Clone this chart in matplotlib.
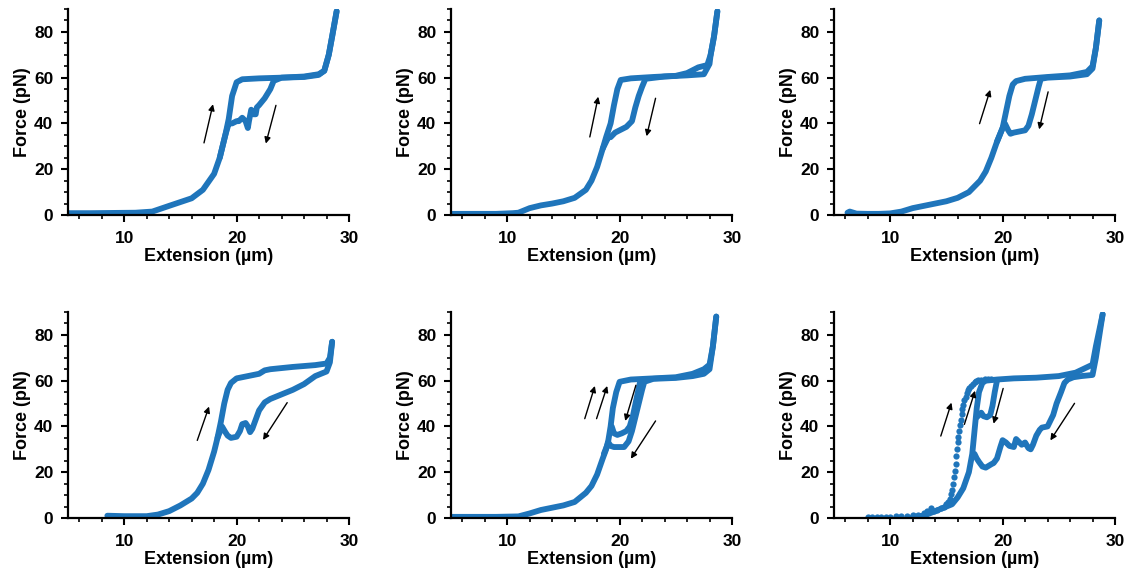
import numpy as np
import matplotlib.pyplot as plt
from matplotlib.ticker import MultipleLocator

plt.rcParams['font.family'] = ['Liberation Sans', 'DejaVu Sans']
plt.rcParams['font.weight'] = 'bold'

BLUE = '#1f75bb'

# ---- panel 1 (top left) ----
p1_sx = [5, 7, 9, 11, 12.5, 14, 16, 17, 18, 18.5, 19, 19.3, 19.6, 20, 20.5, 22, 24, 26, 27.3, 27.8, 28.2, 28.5, 28.9]
p1_sf = [0.8, 0.8, 0.9, 1, 1.5, 4, 7.3, 11, 18, 25, 35, 42, 52, 58, 59.3, 59.7, 60, 60.5, 61.5, 63, 70, 78, 89]
p1_rx = [28.9, 28.5, 28.2, 27.8, 27.3, 26, 24, 23.3, 23, 22.5, 22, 21.8, 21.7, 21.5, 21.3, 21.1, 21, 20.8, 20.5, 20.2, 20, 19.6, 19.3, 19, 18.5]
p1_rf = [89, 78, 70, 63, 61.2, 60.3, 60, 58.6, 55, 51, 48, 47, 44, 44, 46, 41, 38, 41, 42.5, 41, 41, 40, 40, 35, 25]
p1_arrows = [((17.1, 31.5), (17.9, 48.4)), ((23.5, 47.9), (22.6, 31.2))]

# ---- panel 2 (top middle) ----
p2_sx = [5, 7, 9, 10.5, 11, 12, 13, 14, 15, 16, 17, 17.5, 18, 18.5, 18.8, 19.2, 19.5, 19.8, 20.1, 21, 23, 25, 26, 27, 27.8, 28.1, 28.4, 28.7]
p2_sf = [0.5, 0.5, 0.5, 0.8, 1, 3, 4.2, 5, 6, 7.5, 11, 15, 21, 29, 34, 40, 48, 55, 59, 59.7, 60.3, 60.8, 62, 64.5, 65.5, 70, 78, 89]
p2_rx = [28.7, 28.4, 28.1, 28, 27.5, 26, 24, 22.3, 22, 21.7, 21.4, 21.1, 20.6, 20, 19.6, 19.2, 19, 18.5]
p2_rf = [89, 78, 70, 66, 61.5, 61, 60.5, 59.5, 56, 52, 47, 41, 38.5, 37, 36, 34, 34, 29]
p2_arrows = [((17.35, 34.1), (18.1, 51.7)), ((23.2, 51), (22.4, 34.4))]

# ---- panel 3 (top right) ----
p3_sx = [6.2, 6.4, 7, 8, 9, 10, 11, 12, 13, 14, 15, 16, 17, 18, 18.5, 19, 19.5, 20, 20.3, 20.6, 20.9, 21.2, 22, 24, 26, 27.5, 28, 28.3, 28.6]
p3_sf = [1, 1.5, 0.6, 0.5, 0.5, 0.7, 1.5, 3, 4, 5, 6, 7.5, 10, 15, 19, 25, 32, 38, 45, 52, 57, 58.5, 59.5, 60.3, 61, 62.5, 65, 73, 85]
p3_rx = [28.6, 28.3, 28, 27.5, 26, 24, 23.4, 23.2, 22.9, 22.6, 22.3, 22, 21.5, 21, 20.7, 20.5, 20.3, 20.2, 20, 19.5]
p3_rf = [85, 73, 64, 61.5, 60.5, 60, 59.5, 56, 50, 44, 39, 37, 36.5, 36, 35.5, 37, 39, 40, 38, 32]
p3_arrows = [((17.95, 39.9), (18.9, 54.7)), ((24.05, 53.8), (23.25, 37.4))]

# ---- panel 4 (bottom left) ----
p4_sx = [8.5, 10, 12, 13, 14, 15, 16, 16.5, 17, 17.5, 18, 18.3, 18.6, 18.9, 19.2, 19.5, 20, 21, 22, 22.5, 23, 25, 27, 28, 28.3, 28.5]
p4_sf = [1, 0.8, 0.8, 1.5, 3, 5.5, 8.5, 11, 15, 21, 29, 35, 42, 50, 56, 59, 61, 62, 63, 64.5, 65, 66, 66.8, 67.5, 70, 77]
p4_rx = [28.5, 28.3, 28, 27, 26, 25, 24, 23, 22.5, 22, 21.7, 21.4, 21.2, 21, 20.8, 20.5, 20.3, 20, 19.5, 19.2, 19, 18.7, 18.3]
p4_rf = [77, 68, 64, 62, 58.5, 56, 54, 52, 50.5, 47, 43, 39, 37.5, 40, 41.5, 41, 38, 35.5, 35, 36, 37.5, 40, 35]
p4_arrows = [((16.5, 33.9), (17.55, 48.7)), ((24.5, 50.4), (22.35, 34.1))]

# ---- panel 5 (bottom middle) ----
p5_sx = [5, 7, 9, 11, 12, 13, 14, 15, 16, 17, 17.5, 18, 18.5, 18.8, 19, 19.2, 19.4, 19.7, 20, 21, 23, 25, 26.5, 27.5, 28, 28.3, 28.6]
p5_sf = [0.5, 0.5, 0.5, 0.7, 2, 3.5, 4.5, 5.5, 7, 11, 14, 19, 26, 30, 34, 40, 48, 55, 59.5, 60.5, 61, 61.5, 63, 65, 67, 75, 88]
p5_r1x = [28.6, 28.3, 28, 27.5, 26.5, 25, 23, 22.2, 22, 21.7, 21.4, 21.1, 20.8, 20.4, 20, 19.5, 19.2, 19, 18.6]
p5_r1f = [88, 75, 65, 63, 62, 61.2, 60.8, 59.5, 56, 50, 44, 38, 33.5, 31, 31, 31, 31.5, 33, 28]
p5_r2x = [22.5, 21.8, 21.5, 21.2, 20.9, 20.6, 20.2, 19.8, 19.5, 19.3]
p5_r2f = [60.5, 59, 52, 45, 40, 38, 37, 36.3, 37, 40]
p5_arrows = [((16.9, 43.4), (17.8, 57.7)), ((17.95, 43.4), (18.9, 57.7)),
             ((21.45, 58), (20.5, 42.4)), ((23.2, 42.4), (21.0, 25.9))]

# ---- panel 6 (bottom right) ----
# fast stretch, drawn as separate points
p6_ax = [8, 8.4, 8.8, 9.2, 9.6, 10, 10.5, 11, 11.5, 12, 12.5, 13, 13.3, 13.6, 13.9, 14.2, 14.5, 14.8, 15.0, 15.15, 15.3,
         15.42, 15.52, 15.6, 15.68, 15.75, 15.82, 15.88, 15.94, 16.0, 16.06, 16.12, 16.2, 16.27, 16.35, 16.42, 16.5,
         16.6, 16.7, 16.8, 16.92, 17.05, 17.2, 17.35, 17.5, 17.65, 17.85, 18.1, 18.4, 18.7, 19.0]
p6_af = [0.5, 0.5, 0.5, 0.5, 0.5, 0.6, 0.7, 0.8, 1, 1.2, 1.5, 2, 3, 4.5, 3, 3.5, 4.5, 5, 6, 7, 8.5,
         10.5, 12.4, 15, 18, 20.5, 23.5, 27, 30, 33, 35.5, 38, 40.5, 43, 45.5, 47.5, 49.5,
         51.5, 53, 54.5, 55.8, 56.8, 57.7, 58.5, 59.2, 59.8, 60.2, 60.4, 60.6, 60.7, 60.8]
p6_bx = [12, 13, 13.5, 14, 14.5, 15, 15.5, 16, 16.5, 17, 17.3, 17.5, 17.7, 17.9, 18.2, 18.5, 19.5, 21, 23, 25, 26.5, 28, 28.3, 28.6, 28.9]
p6_bf = [0.5, 1, 2, 3, 4, 5, 6, 9, 13, 20, 28, 38, 48, 55, 59, 60, 60.5, 61, 61.3, 62, 63.5, 67, 75, 82, 89]
p6_r1x = [19.5, 19.3, 19.1, 18.9, 18.6, 18.3, 18.1, 17.9, 17.7]
p6_r1f = [60, 55, 49, 45, 44, 44.5, 46, 45, 44]
p6_r2x = [28.9, 28.3, 28, 27, 26.3, 25.8, 25.5, 25.2, 24.8, 24.5, 24.2, 24, 23.5, 23.3, 23, 22.7, 22.5, 22.3, 22, 21.7, 21.5, 21.2, 21, 20.6, 20.3, 20, 19.8, 19.5, 19.2, 19, 18.5, 18.2, 17.9, 17.7, 17.5]
p6_r2f = [89, 70, 62.5, 62, 61.5, 60.5, 59, 55, 50, 45, 42, 40, 39.5, 38.5, 36, 32, 30, 30.5, 33, 32, 33, 34.5, 31, 31.5, 33, 34, 31, 26, 24, 23.5, 22, 22.5, 24.5, 26, 28]
p6_arrows = [((14.5, 35.8), (15.45, 50.4)), ((16.6, 40.9), (17.55, 55.6)),
             ((20.05, 56.6), (19.2, 41.2)), ((26.4, 50.1), (24.25, 33.9))]

panels = [
    ([(p1_sx, p1_sf), (p1_rx, p1_rf)], [], p1_arrows),
    ([(p2_sx, p2_sf), (p2_rx, p2_rf)], [], p2_arrows),
    ([(p3_sx, p3_sf), (p3_rx, p3_rf)], [], p3_arrows),
    ([(p4_sx, p4_sf), (p4_rx, p4_rf)], [], p4_arrows),
    ([(p5_sx, p5_sf), (p5_r1x, p5_r1f), (p5_r2x, p5_r2f)], [], p5_arrows),
    ([(p6_bx, p6_bf), (p6_r1x, p6_r1f), (p6_r2x, p6_r2f)], [(p6_ax, p6_af)], p6_arrows),
]

W, H = 1131, 574
fig = plt.figure(figsize=(W / 100, H / 100), dpi=100)

lefts = [68, 451, 834]
bottoms = [215, 518]  # pixel of x-axis from top
aw, ah = 281, 206

for i, (lines, dots, arrows) in enumerate(panels):
    r, c = divmod(i, 3)
    ax = fig.add_axes([lefts[c] / W, (H - bottoms[r]) / H, aw / W, ah / H])
    for x, f in lines:
        ax.plot(x, f, color=BLUE, lw=4.2, solid_joinstyle='round', solid_capstyle='round')
    for x, f in dots:
        ax.plot(x, f, 'o', color=BLUE, ms=4.5, mew=0)
    for tail, head in arrows:
        ax.annotate('', xy=head, xytext=tail,
                    arrowprops=dict(arrowstyle='-|>', lw=1.0, color='black',
                                    mutation_scale=9, shrinkA=0, shrinkB=0))
    ax.set_xlim(5, 30)
    ax.set_ylim(0, 90)
    ax.xaxis.set_major_locator(MultipleLocator(10))
    ax.xaxis.set_minor_locator(MultipleLocator(2))
    ax.yaxis.set_major_locator(MultipleLocator(20))
    ax.yaxis.set_minor_locator(MultipleLocator(5))
    for s in ['top', 'right']:
        ax.spines[s].set_visible(False)
    for s in ['left', 'bottom']:
        ax.spines[s].set_linewidth(1.6)
    ax.tick_params(which='major', length=5, width=1.5, labelsize=12.5)
    ax.tick_params(axis='x', which='major', pad=6.5)
    ax.tick_params(axis='y', which='major', pad=5.5)
    ax.tick_params(which='minor', length=3.2, width=1.2)
    for lab in ax.get_xticklabels() + ax.get_yticklabels():
        lab.set_fontweight('bold')
    ax.set_xlabel('Extension (µm)', fontsize=13, fontweight='bold', labelpad=1.5)
    ax.set_ylabel('Force (pN)', fontsize=13, fontweight='bold', labelpad=2)

plt.savefig('out.png', dpi=100)
